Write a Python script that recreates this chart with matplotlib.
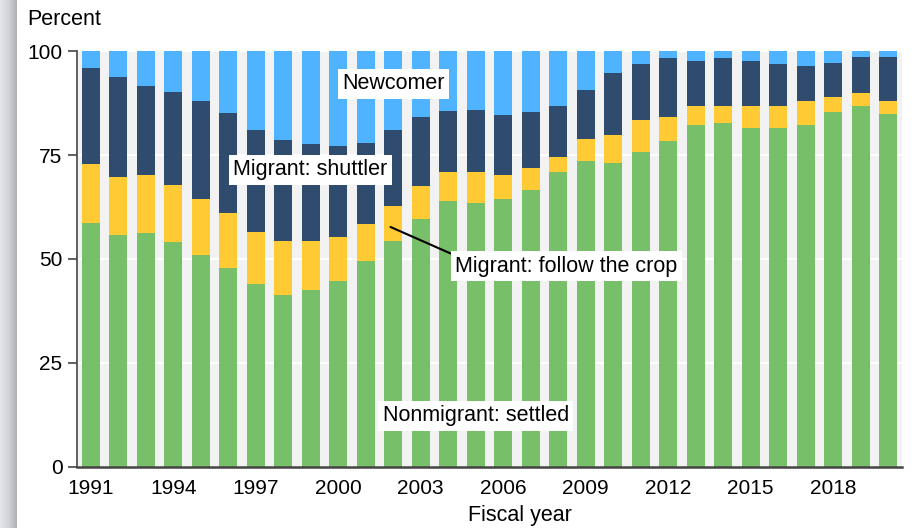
import numpy as np
import matplotlib
matplotlib.use('Agg')
import matplotlib.pyplot as plt
from matplotlib.colors import LinearSegmentedColormap

plt.rcParams['font.family'] = ['Liberation Sans', 'DejaVu Sans']

years = list(range(1991, 2021))
# cumulative tops (percent)
settled = [58.7, 55.8, 56.2, 54.0, 50.9, 47.8, 43.9, 41.3, 42.6, 44.8,
           49.6, 54.4, 59.6, 63.9, 63.5, 64.4, 66.7, 71.0, 73.6, 73.1,
           75.8, 78.4, 82.3, 82.8, 81.5, 81.5, 82.3, 85.4, 86.7, 84.9]
crop_top = [72.8, 69.7, 70.1, 67.9, 64.4, 61.0, 56.6, 54.4, 54.4, 55.3,
            58.3, 62.7, 67.5, 71.0, 71.0, 70.1, 71.9, 74.4, 78.8, 79.7,
            83.3, 84.1, 86.7, 86.7, 86.7, 86.7, 88.0, 88.9, 89.8, 88.0]
shuttler_top = [95.8, 93.7, 91.5, 90.2, 88.0, 85.0, 81.1, 78.5, 77.6, 77.2,
                78.0, 81.1, 84.1, 85.5, 85.9, 84.5, 85.4, 86.7, 90.6, 94.6,
                96.8, 98.2, 97.7, 98.2, 97.7, 96.8, 96.4, 97.2, 98.6, 98.6]

settled = np.array(settled)
crop = np.array(crop_top) - settled
shuttler = np.array(shuttler_top) - np.array(crop_top)
newcomer = 100 - np.array(shuttler_top)

colors = {'settled': '#78bf69', 'crop': '#ffca33', 'shuttler': '#2f4b6e', 'newcomer': '#4fb3ff'}

fig = plt.figure(figsize=(9.15, 5.28), dpi=100)
ax = fig.add_axes([77 / 915, 61 / 528, 825 / 915, 416 / 528])
ax.set_facecolor('#f2f2f2')

x = np.arange(len(years))
w = 0.64
ax.bar(x, settled, w, color=colors['settled'], zorder=2)
ax.bar(x, crop, w, bottom=settled, color=colors['crop'], zorder=2)
ax.bar(x, shuttler, w, bottom=crop_top, color=colors['shuttler'], zorder=2)
ax.bar(x, newcomer, w, bottom=shuttler_top, color=colors['newcomer'], zorder=2)

ax.set_xlim(-0.5, len(years) - 0.5)
ax.set_ylim(0, 100)
ax.set_yticks([0, 25, 50, 75, 100])
ax.yaxis.grid(True, color='white', linewidth=1.5, zorder=1)
ax.set_axisbelow(True)
ax.set_xticks(x[::3])
ax.set_xticklabels([str(y) for y in years[::3]])
ax.tick_params(axis='x', length=0, pad=9, labelsize=15)
ax.tick_params(axis='y', length=6.5, width=1.2, color='#444444', pad=4, labelsize=15)

for s in ['top', 'right']:
    ax.spines[s].set_visible(False)
ax.spines['left'].set_color('#444444')
ax.spines['left'].set_linewidth(1.2)
ax.spines['bottom'].set_color('#444444')
ax.spines['bottom'].set_linewidth(1.8)

box = dict(boxstyle='square,pad=0.2', fc='white', ec='none')
ax.text(11.0, 92.1, 'Newcomer', ha='center', va='center', fontsize=15.5, bbox=box, zorder=5)
ax.text(7.98, 71.4, 'Migrant: shuttler', ha='center', va='center', fontsize=15.5, bbox=box, zorder=5)
ax.text(14.0, 12.3, 'Nonmigrant: settled', ha='center', va='center', fontsize=15.5, bbox=box, zorder=5)
ax.annotate('Migrant: follow the crop', xy=(10.9, 57.7), xytext=(17.3, 48.3),
            ha='center', va='center', fontsize=15.5, bbox=box, zorder=5,
            arrowprops=dict(arrowstyle='-', color='black', lw=1.5,
                            shrinkA=0, shrinkB=0, relpos=(0, 1)))

fig.text(27 / 915, 1 - 19.5 / 528, 'Percent', ha='left', va='center', fontsize=15.5)
fig.text(520 / 915, 1 - 516 / 528, 'Fiscal year', ha='center', va='center', fontsize=15.5)

# grey strip at the left edge of the screenshot
strip = fig.add_axes([0, 0, 17 / 915, 1])
grad = np.linspace(0, 1, 64)[None, :]
cmap = LinearSegmentedColormap.from_list('strip', ['#e4e6ea', '#d2d4d9', '#aeb0b6'])
strip.imshow(grad, aspect='auto', cmap=cmap, extent=[0, 1, 0, 1])
strip.axis('off')

fig.savefig('out.png', dpi=100)
